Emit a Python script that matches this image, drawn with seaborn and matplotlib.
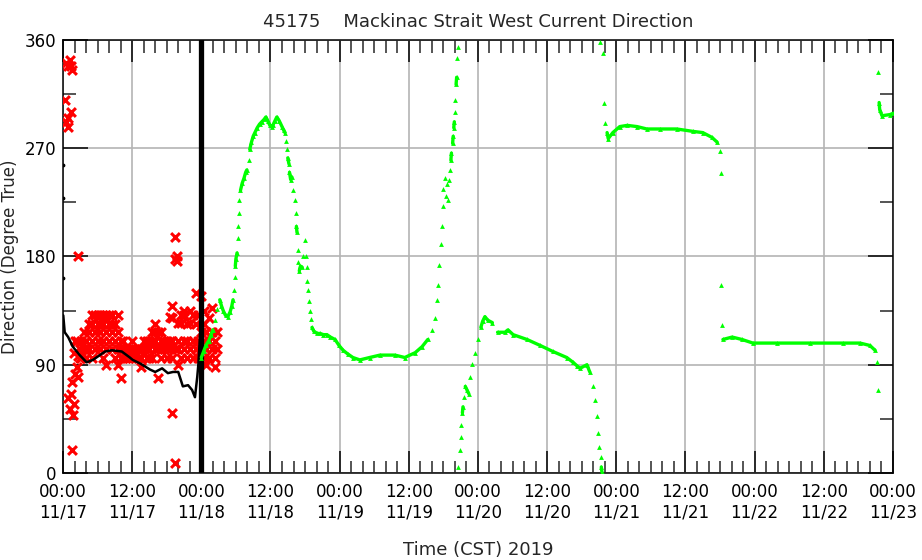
import pandas as pd
import seaborn as sns
import matplotlib.pyplot as plt
from matplotlib.ticker import MultipleLocator, FixedLocator

sns.set_style('white')
plt.rcParams['font.family'] = ['DejaVu Sans']

# x 값은 11/17 00:00 기준 경과 시간(hour)
tick_hours = [0, 12, 24, 36, 48, 60, 72, 84, 96, 108, 120, 132, 144]
tick_labels = ['00:00\n11/17', '12:00\n11/17', '00:00\n11/18', '12:00\n11/18',
               '00:00\n11/19', '12:00\n11/19', '00:00\n11/20', '12:00\n11/20',
               '00:00\n11/21', '12:00\n11/21', '00:00\n11/22', '12:00\n11/22',
               '00:00\n11/23']
dir_ticks = [0, 90, 180, 270, 360]

# 검은색 시계열 (첫째 날)
black_hours = [0.05, 0.3, 0.9, 1.7, 2.9, 4.1, 5.2, 6.4, 7.3, 8.5, 10.2, 11.6, 12.1,
               13.4, 15.1, 16.0, 17.2, 18.2, 19.1, 20.0, 20.8, 21.7, 22.4, 22.9,
               23.3, 23.5, 23.8]
black_dirs = [131, 117, 113, 105, 98, 92, 94, 98, 101, 102, 101, 96, 94,
              91, 86, 84, 87, 83, 84, 84, 72, 73, 69, 63,
              80, 91, 116]
black_edge_hours = [0.05, 0.05, 0.05]
black_edge_dirs = [256, 229, 162]

# 빨간 x 표시 : 시간별 방향 값 묶음
red_hours = [0.3, 0.5, 0.8, 0.9, 1.2, 1.4, 1.6, 1.7, 1.9, 2.1, 2.4, 2.6, 2.9,
             3.2, 3.6, 4.0, 4.5, 5.0, 5.5, 6.0, 6.5, 7.0, 7.5, 8.0, 8.5, 9.0, 9.5,
             10.0, 10.5, 11.0, 11.5, 12.0, 12.5, 13.0, 13.5, 14.0, 14.5, 15.0,
             15.5, 16.0, 16.5, 17.0, 17.5, 18.0, 18.5, 19.0, 19.5, 19.8, 20.0,
             20.5, 21.0, 21.5, 22.0, 22.5, 23.0, 23.5, 24.0, 24.4, 24.8, 25.3,
             25.8, 26.3, 26.8]
red_dirs = [[310], [292, 341], [288, 338], [295, 62], [53, 343], [300, 66, 338],
            [19, 76, 335], [48], [57, 100], [82, 110], [88, 110], [180, 97, 80],
            [103, 96],
            [96, 110], [103, 117], [96, 110, 103], [117, 124, 103],
            [110, 124, 131, 96], [117, 103, 131], [110, 124, 131],
            [117, 103, 124, 131], [110, 96, 124, 131], [117, 103, 131, 90],
            [124, 110, 131], [117, 103, 124, 131], [110, 96, 124],
            [117, 103, 90, 131],
            [110, 96, 79, 103], [103, 96, 110], [103, 96], [96, 103],
            [103, 96, 110], [96, 103], [103, 96], [96, 88, 103], [103, 110],
            [96, 103, 110], [103, 110, 96],
            [110, 117, 96], [117, 103, 110, 124], [103, 117, 79],
            [110, 117, 103, 96], [103, 110], [96, 103, 110], [103, 110, 130],
            [96, 110, 139, 129, 50], [8, 103, 196, 178], [176, 180],
            [103, 110, 90, 125],
            [96, 125, 131], [103, 110, 131, 135], [110, 124, 96],
            [103, 125, 135], [96, 110, 131], [103, 124, 150], [110, 96, 131],
            [103, 117, 147], [96, 110, 124, 135], [103, 117, 90],
            [110, 96, 129],
            [103, 117, 137], [96, 110, 88], [103, 117]]

# 초록색 시계열 (11/18 이후)
green_hours = [
    24.0, 24.4, 24.8, 25.3, 25.7, 26.0, 26.4, 26.8, 27.2, 27.5,
    27.8, 28.2, 28.6, 29.0, 29.3, 29.5, 29.6, 29.8, 29.9, 30.0,
    30.2, 30.3, 30.4, 30.5, 30.6, 30.8, 31.1, 31.4, 31.7, 31.9,
    32.2, 32.4, 32.7, 33.0, 33.3, 33.7, 34.1, 34.5, 34.9, 35.2,
    35.5, 35.9, 36.2, 36.4, 36.8, 37.1, 37.5, 38.0, 38.3, 38.5,
    38.7, 38.9, 39.0, 39.2, 39.3, 39.5, 39.7, 39.9, 40.2, 40.4,
    40.5, 40.6, 40.7, 40.8, 41.0, 41.2, 41.5, 41.7, 42.0, 42.1,
    42.3, 42.4, 42.5, 42.7, 42.9, 43.0, 43.2, 43.5, 44.1, 44.6,
    45.2, 45.8, 46.4, 47.2, 47.9, 48.6, 49.4, 50.3,
    51.5, 53.2, 55.0, 57.6, 59.3, 61.1, 62.3, 63.3, 64.0, 64.5,
    64.9, 65.1, 65.3, 65.5, 65.7, 65.9, 66.0, 66.2, 66.4, 66.6,
    66.8, 67.0, 67.2, 67.3, 67.4, 67.6, 67.7, 67.8, 67.9, 68.0,
    68.1, 68.2, 68.3, 68.4, 68.5,
    68.6, 68.8, 69.0, 69.1, 69.3, 69.4, 69.5, 69.8, 70.1, 70.4,
    70.7, 70.9, 71.5, 72.0, 72.5, 72.8, 73.2, 73.7, 74.5, 75.4, 76.7,
    77.2, 78.1, 80.5, 82.8, 85.0, 87.4, 88.5, 89.2, 89.7, 90.9, 91.4, 91.9,
    92.3, 92.6, 92.8, 93.0, 93.3, 93.4, 93.5,
    93.2, 93.7, 93.9, 94.0, 94.4, 94.6, 95.4, 96.6, 97.9, 99.6,
    101.3, 103.6, 106.5, 109.3, 111.0, 112.6, 113.5, 114.0, 114.2, 114.2,
    114.3, 114.5, 116.1, 117.8, 119.7, 123.9, 129.6, 135.3, 138.3, 140.0,
    140.9, 141.2, 141.4,
    141.4, 141.6, 141.7, 142.1, 143.5, 144.0]
green_dirs = [
    96, 101, 106, 110, 115, 119, 127, 136, 144, 139,
    135, 131, 130, 134, 139, 144, 152, 163, 172, 178,
    183, 195, 205, 216, 227, 235, 241, 245, 250, 252,
    260, 269, 275, 280, 283, 287, 290, 292, 294, 296,
    293, 289, 288, 289, 293, 296, 293, 288, 285, 283,
    276, 269, 262, 257, 250, 244, 246, 235, 227, 216,
    205, 200, 185, 175, 168, 172, 171, 180, 194, 180,
    171, 160, 152, 143, 135, 128, 121, 118, 116, 116,
    115, 115, 113, 111, 106, 102, 99, 96,
    94, 96, 98, 98, 96, 100, 105, 111, 119, 129,
    144, 156, 173, 190, 205, 222, 236, 245, 230, 240,
    227, 244, 252, 260, 266, 274, 280, 287, 292, 300,
    310, 323, 329, 345, 354,
    5, 19, 30, 40, 50, 55, 63, 72, 69, 66,
    80, 91, 100, 111, 121, 126, 130, 127, 125, 117, 117,
    119, 115, 111, 106, 101, 96, 92, 89, 87, 90, 84, 72,
    61, 47, 33, 22, 13, 5, 1,
    358, 349, 308, 291, 283, 278, 283, 288, 289, 288,
    286, 286, 286, 284, 283, 279, 275, 268, 249, 156,
    123, 111, 113, 111, 108, 108, 108, 108, 108, 106,
    102, 92, 69,
    333, 308, 302, 297, 298, 299]

# 데이터 프레임 구성
red_df = pd.DataFrame({'hour': red_hours, 'dir': red_dirs}).explode('dir')
red_df['dir'] = red_df['dir'].astype(float)
black_df = pd.DataFrame({'hour': black_hours, 'dir': black_dirs})
green_df = pd.DataFrame({'hour': green_hours, 'dir': green_dirs})
# 값이 크게 튀는 곳은 선을 끊는다
jump = (green_df['dir'].diff().abs() > 6) | (green_df['hour'].diff().abs() > 7)
green_df['seg'] = jump.cumsum()

fig = plt.figure(figsize=(9.22, 5.6), dpi=100)
ax = fig.add_axes([0.0683, 0.1554, 0.9002, 0.7732])

sns.scatterplot(data=red_df, x='hour', y='dir', marker='x', color='#ff0000',
                s=40, linewidth=2.2, ax=ax, zorder=3)
sns.lineplot(data=black_df, x='hour', y='dir', color='black', lw=1.8,
             ax=ax, zorder=4)
ax.scatter(black_edge_hours, black_edge_dirs, s=3, color='black', zorder=4)
ax.axvline(24, color='black', lw=3.8, zorder=5)
sns.lineplot(data=green_df, x='hour', y='dir', units='seg', estimator=None,
             sort=False, color='#00ff00', lw=2.4, ax=ax, zorder=6)
sns.scatterplot(data=green_df, x='hour', y='dir', marker='^', color='#00ff00',
                s=12, linewidth=0, ax=ax, zorder=6)

ax.set_xlim(0, 144)
ax.set_ylim(0, 360)
ax.xaxis.set_major_locator(FixedLocator(tick_hours))
ax.xaxis.set_minor_locator(MultipleLocator(2))
ax.yaxis.set_major_locator(FixedLocator(dir_ticks))
ax.yaxis.set_minor_locator(MultipleLocator(45))
ax.set_xticklabels(tick_labels)
ax.set_yticklabels([str(v) for v in dir_ticks])

ax.tick_params(axis='x', which='major', direction='in', length=16, width=1.1,
               top=True, bottom=True, labelsize=12, pad=7, colors='black')
ax.tick_params(axis='x', which='minor', direction='in', length=9, width=1.1,
               top=True, bottom=True)
ax.tick_params(axis='y', which='major', direction='in', length=18, width=1.1,
               left=True, right=True, labelsize=12, pad=5, colors='black')
ax.tick_params(axis='y', which='minor', direction='in', length=9.5, width=1.1,
               left=True, right=True)

ax.grid(which='major', color='#b4b4b4', lw=1.2)
ax.set_axisbelow(True)
for s in ax.spines.values():
    s.set_color('black')
    s.set_linewidth(1.1)

ax.set_title('45175    Mackinac Strait West Current Direction', fontsize=13, pad=9)
ax.set_xlabel('Time (CST) 2019', fontsize=13, labelpad=14)
ax.set_ylabel('Direction (Degree True)', fontsize=12, labelpad=4)

plt.savefig('out.png', dpi=100)
